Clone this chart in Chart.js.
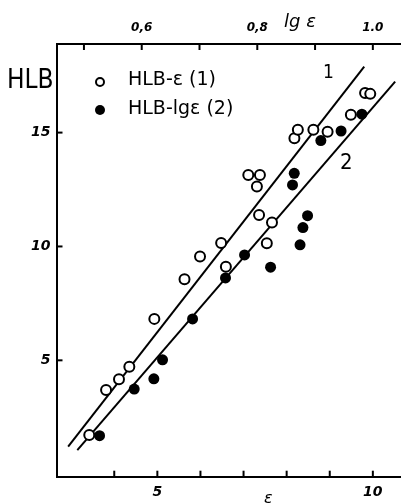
<!DOCTYPE html>
<html><head><meta charset="utf-8">
<script src="https://cdn.jsdelivr.net/npm/chart.js@4"></script>
<style>html,body{margin:0;padding:0;background:#fff}#wrap{width:401px;height:504px;position:relative}</style>
</head><body><div id="wrap"><canvas id="c" width="401" height="504"></canvas></div>
<script>
// Bottom axis (ε) ticks and labels
const epsTicks = [4, 5, 6, 7, 8, 9, 10];
const epsLabels = ['', '5', '', '', '', '', '10'];
// Top axis (lg ε) ticks and labels
const lgTicks = [0.5, 0.6, 0.7, 0.8, 0.9, 1.0];
const lgLabels = ['', '0,6', '', '0,8', '', '1.0'];
// Left axis (HLB) ticks
const hlbTicks = [5, 10, 15];
const hlbLabels = ['5', '10', '15'];

// Series 1: HLB vs ε (open circles)
const openEps = [3.42, 3.81, 4.11, 4.35, 4.93, 5.63, 5.99, 6.48, 6.59, 7.36, 7.54, 7.66, 7.11, 7.38, 7.31, 8.18, 8.26, 8.62, 8.95, 9.49, 9.82, 9.94];
const openHLB = [1.72, 3.70, 4.17, 4.72, 6.82, 8.56, 9.56, 10.15, 9.11, 11.38, 10.14, 11.05, 13.14, 13.14, 12.63, 14.75, 15.12, 15.12, 15.04, 15.78, 16.74, 16.70];
// Series 2: HLB vs lg ε (filled circles)
const filledLg = [0.527, 0.587, 0.621, 0.636, 0.688, 0.745, 0.778, 0.823, 0.874, 0.879, 0.887, 0.861, 0.864, 0.910, 0.945, 0.981];
const filledHLB = [1.69, 3.74, 4.19, 5.02, 6.82, 8.62, 9.63, 9.09, 10.07, 10.83, 11.35, 12.70, 13.21, 14.65, 15.07, 15.81];
// Fitted lines
const line1Eps = [2.93, 9.80];
const line1HLB = [1.21, 17.90];
const line2Lg = [0.4885, 1.0386];
const line2HLB = [1.06, 17.24];

const legendLabels = ['HLB-ε (1)', 'HLB-lgε (2)'];

const toPts = (xs, ys) => xs.map((x, i) => ({x: x, y: ys[i]}));

const inwardTicks = {
  id: 'inwardTicks',
  afterDraw(chart) {
    const ctx = chart.ctx, a = chart.chartArea;
    ctx.save();
    ctx.strokeStyle = '#000';
    ctx.lineWidth = 2;
    const L = 6;
    const seg = (x1, y1, x2, y2) => { ctx.beginPath(); ctx.moveTo(x1, y1); ctx.lineTo(x2, y2); ctx.stroke(); };
    chart.scales.x.ticks.forEach(t => { const p = chart.scales.x.getPixelForValue(t.value); seg(p, a.bottom, p, a.bottom - L); });
    chart.scales.x2.ticks.forEach(t => { const p = chart.scales.x2.getPixelForValue(t.value); seg(p, a.top, p, a.top + L); });
    chart.scales.y.ticks.forEach(t => { const p = chart.scales.y.getPixelForValue(t.value); seg(a.left, p, a.left + L, p); });
    ctx.restore();
  }
};

const annotations = {
  id: 'annotations',
  afterDraw(chart) {
    const ctx = chart.ctx;
    ctx.save();
    ctx.fillStyle = '#000';
    ctx.textBaseline = 'alphabetic';
    ctx.textAlign = 'left';
    ctx.font = '26px "DejaVu Sans Condensed", "DejaVu Sans"';
    ctx.fillText('HLB', 7, 88);
    ctx.font = 'italic 18px "DejaVu Sans"';
    ctx.fillText('lg ε', 284, 27);
    ctx.font = 'italic 16px "DejaVu Sans"';
    ctx.fillText('ε', 264, 503);
    // legend
    ctx.strokeStyle = '#000';
    ctx.lineWidth = 2;
    ctx.beginPath(); ctx.arc(100, 82, 4, 0, Math.PI * 2); ctx.fillStyle = '#fff'; ctx.fill(); ctx.stroke();
    ctx.fillStyle = '#000';
    ctx.beginPath(); ctx.arc(100, 110, 5, 0, Math.PI * 2); ctx.fill();
    ctx.font = '19px "DejaVu Sans"';
    ctx.textBaseline = 'middle';
    ctx.fillText(legendLabels[0], 128, 80);
    ctx.fillText(legendLabels[1], 128, 109);
    // line labels
    ctx.font = '19px "DejaVu Sans Condensed", "DejaVu Sans"';
    ctx.fillText('1', 323, 73);
    ctx.font = '22px "DejaVu Sans Condensed", "DejaVu Sans"';
    ctx.fillText('2', 340, 163);
    ctx.restore();
  }
};

const tickFont = {family: '"DejaVu Sans"', size: 14, style: 'italic', weight: 'bold'};
const noPad = s => { s.paddingLeft = 0; s.paddingRight = 0; s.paddingTop = 0; s.paddingBottom = 0; };

new Chart(document.getElementById('c'), {
  type: 'scatter',
  data: {
    datasets: [
      {label: legendLabels[0], data: toPts(openEps, openHLB), xAxisID: 'x', yAxisID: 'y',
       pointStyle: 'circle', pointRadius: 5, backgroundColor: '#fff', borderColor: '#000', borderWidth: 2},
      {label: legendLabels[1], data: toPts(filledLg, filledHLB), xAxisID: 'x2', yAxisID: 'y',
       pointStyle: 'circle', pointRadius: 5.5, backgroundColor: '#000', borderColor: '#000', borderWidth: 0},
      {label: '1', data: toPts(line1Eps, line1HLB), xAxisID: 'x', yAxisID: 'y', showLine: true,
       pointRadius: 0, borderColor: '#000', borderWidth: 2},
      {label: '2', data: toPts(line2Lg, line2HLB), xAxisID: 'x2', yAxisID: 'y', showLine: true,
       pointRadius: 0, borderColor: '#000', borderWidth: 2}
    ]
  },
  options: {
    responsive: false,
    devicePixelRatio: 1,
    animation: false,
    layout: {autoPadding: false, padding: {left: 0, right: 1, top: 0, bottom: 0}},
    plugins: {legend: {display: false}, tooltip: {enabled: false}},
    scales: {
      x: {
        type: 'linear', position: 'bottom', min: 2.66, max: 10.63,
        afterBuildTicks: s => { s.ticks = epsTicks.map(v => ({value: v})); },
        afterFit: s => { s.height = 27.3; noPad(s); },
        ticks: {autoSkip: false, maxRotation: 0, padding: 7, color: '#000', font: tickFont,
                callback: (v, i) => epsLabels[i]},
        grid: {display: true, drawOnChartArea: false, drawTicks: false},
        border: {display: true, color: '#000', width: 2}
      },
      x2: {
        type: 'linear', position: 'top', min: 0.4525, max: 1.047,
        afterBuildTicks: s => { s.ticks = lgTicks.map(v => ({value: v})); },
        afterFit: s => { s.height = 44; noPad(s); },
        ticks: {autoSkip: false, maxRotation: 0, padding: 9, color: '#000',
                font: {family: '"DejaVu Sans"', size: 12, style: 'italic', weight: 'bold'},
                callback: (v, i) => lgLabels[i]},
        grid: {display: true, drawOnChartArea: false, drawTicks: false},
        border: {display: true, color: '#000', width: 2}
      },
      y: {
        type: 'linear', position: 'left', min: -0.11, max: 18.89,
        afterBuildTicks: s => { s.ticks = hlbTicks.map(v => ({value: v})); },
        afterFit: s => { s.width = 56.5; noPad(s); },
        ticks: {autoSkip: false, padding: 6, color: '#000', font: tickFont,
                callback: (v, i) => hlbLabels[i]},
        grid: {display: true, drawOnChartArea: false, drawTicks: false},
        border: {display: true, color: '#000', width: 2}
      }
    }
  },
  plugins: [inwardTicks, annotations]
});
</script>
</body></html>
